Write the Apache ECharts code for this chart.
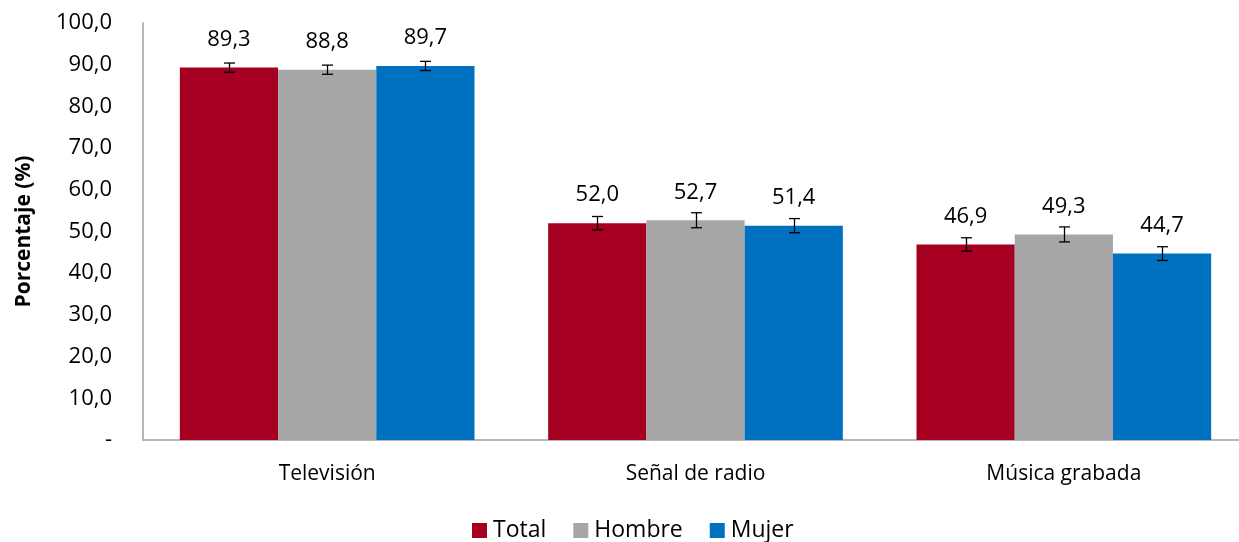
<!DOCTYPE html>
<html>
<head>
<meta charset="utf-8">
<script src="https://cdn.jsdelivr.net/npm/echarts@6/dist/echarts.min.js"></script>
<style>html,body{margin:0;padding:0;background:#fff}#c{width:1239px;height:542px}</style>
</head>
<body>
<div id="c"></div>
<script>
var categories = ['Televisión', 'Señal de radio', 'Música grabada'];
var seriesNames = ['Total', 'Hombre', 'Mujer'];
var totalValues = [89.3, 52.0, 46.9];
var hombreValues = [88.8, 52.7, 49.3];
var mujerValues = [89.7, 51.4, 44.7];
var totalErr = [1.1, 1.6, 1.6];
var hombreErr = [1.1, 1.8, 1.8];
var mujerErr = [1.1, 1.7, 1.65];
var yTicks = [0, 10, 20, 30, 40, 50, 60, 70, 80, 90, 100];
var colors = ['#A50021', '#A6A6A6', '#0070C0'];

var FONT = '"Open Sans", sans-serif';
var CAT_GAP = 0.2;
var values = [totalValues, hombreValues, mujerValues];
var errs = [totalErr, hombreErr, mujerErr];

function fmt(v) { return v.toFixed(1).replace('.', ','); }

var series = [];
values.forEach(function (vals, s) {
  series.push({
    name: seriesNames[s],
    type: 'bar',
    data: vals,
    barGap: '0%',
    barCategoryGap: (CAT_GAP * 100) + '%',
    itemStyle: { color: colors[s] },
    label: {
      show: true, position: 'top', distance: 17,
      fontFamily: FONT, fontSize: 22, color: '#000',
      formatter: function (p) { return fmt(p.value); }
    },
    z: 2
  });
});
values.forEach(function (vals, s) {
  series.push({
    name: 'err' + s,
    type: 'custom',
    z: 5,
    silent: true,
    data: vals.map(function (v, i) { return [i, v - errs[s][i], v + errs[s][i]]; }),
    renderItem: function (params, api) {
      var hi = api.coord([api.value(0), api.value(2)]);
      var lo = api.coord([api.value(0), api.value(1)]);
      var band = api.size([1, 0])[0];
      var barW = band * (1 - CAT_GAP) / 3;
      var x = Math.round(hi[0] + (s - 1) * barW) + 0.5;
      var cap = 5.5;
      var st = { stroke: '#000', lineWidth: 1.3 };
      return {
        type: 'group',
        children: [
          { type: 'line', shape: { x1: x, y1: hi[1], x2: x, y2: lo[1] }, style: st },
          { type: 'line', shape: { x1: x - cap, y1: hi[1], x2: x + cap, y2: hi[1] }, style: st },
          { type: 'line', shape: { x1: x - cap, y1: lo[1], x2: x + cap, y2: lo[1] }, style: st }
        ]
      };
    }
  });
});

var chart = echarts.init(document.getElementById('c'));
chart.setOption({
  animation: false,
  textStyle: { fontFamily: FONT },
  grid: { left: 143, top: 23, width: 1105, height: 417, containLabel: false, outerBoundsMode: 'none' },
  legend: {
    data: seriesNames,
    bottom: -5,
    left: 467,
    icon: 'rect',
    itemWidth: 15,
    itemHeight: 15,
    itemGap: 27,
    textStyle: { fontFamily: FONT, fontSize: 23, color: '#000', padding: [0, 0, 0, 1] }
  },
  xAxis: {
    type: 'category',
    data: categories,
    axisLine: { lineStyle: { color: '#A0A0A0', width: 1.5 } },
    axisTick: { show: false },
    axisLabel: { fontFamily: FONT, fontSize: 21, color: '#000', margin: 24 }
  },
  yAxis: {
    type: 'value',
    min: yTicks[0],
    max: yTicks[yTicks.length - 1],
    interval: yTicks[1] - yTicks[0],
    name: 'Porcentaje (%)',
    nameLocation: 'middle',
    nameGap: 108,
    nameRotate: 90,
    nameTextStyle: { fontFamily: FONT, fontSize: 21, fontWeight: 'bold', color: '#000' },
    axisLine: { show: true, lineStyle: { color: '#A0A0A0', width: 1.5 } },
    axisTick: { show: false },
    splitLine: { show: false },
    axisLabel: {
      fontFamily: FONT, fontSize: 22, color: '#000', margin: 31,
      formatter: function (v) { return v === 0 ? '-' : fmt(v); }
    }
  },
  series: series
});
</script>
</body>
</html>
